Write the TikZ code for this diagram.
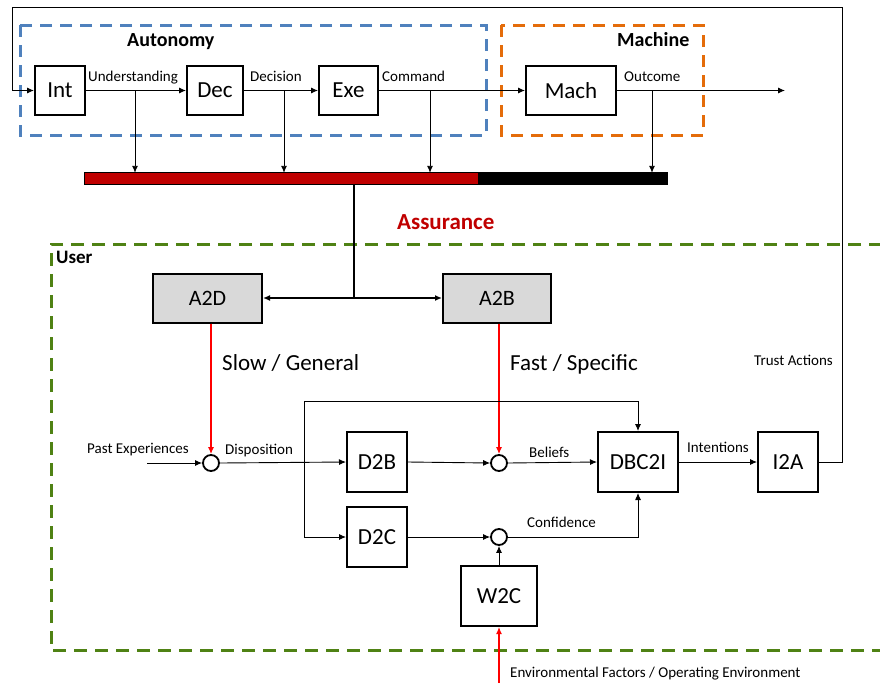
\documentclass[tikz,border=0pt]{standalone}
\usepackage{fontspec}
\setmainfont{Carlito}
\usetikzlibrary{arrows.meta,calc}
\definecolor{autblue}{RGB}{79,129,189}
\definecolor{machorange}{RGB}{228,108,10}
\definecolor{usergreen}{RGB}{79,130,20}
\definecolor{barred}{RGB}{192,0,0}
\definecolor{boxgray}{RGB}{217,217,217}
\begin{document}
\begin{tikzpicture}[x=1pt,y=-1pt,
  blk/.style={draw,line width=2pt,inner sep=0pt,font=\fontsize{23}{23}\selectfont},
  sumc/.style={draw,circle,line width=1.8pt,minimum size=16pt,inner sep=0pt},
  ar/.style={-{Latex[length=7pt,width=6pt]},line width=0.9pt},
  redar/.style={-{Latex[length=7pt,width=6pt]},line width=1.2pt,draw=red,fill=red},
  lbl/.style={font=\fontsize{15}{15}\selectfont,inner sep=0pt,anchor=base west},
  big/.style={font=\fontsize{23}{23}\selectfont,inner sep=0pt,anchor=base west},
  ttl/.style={font=\bfseries\fontsize{20}{20}\selectfont,inner sep=0pt,anchor=base west},
  grp/.style={line width=3pt,dash pattern=on 12pt off 8pt}
]
\useasboundingbox (0,0) rectangle (880,683);

% group frames
\draw[grp,autblue] (20,25) rectangle (486,135);
\draw[grp,machorange] (501,25) rectangle (703,135);
\draw[grp,usergreen,dash pattern=on 13pt off 8pt] (882,244) -- (51,244) -- (51,650) -- (882,650);

\node[ttl] (tAut) at (127,46) {Autonomy};
\node[ttl] (tMach) at (617,46) {Machine};
\node[ttl,font=\bfseries\fontsize{19}{19}\selectfont] (tUser) at (56,263) {User};
\node[ttl,font=\bfseries\fontsize{23}{23}\selectfont,text=barred] (tAss) at (397,229) {Assurance};

% top chain
\node[blk,minimum width=50pt,minimum height=49pt] (int) at (60,90.5) {Int};
\node[blk,minimum width=56pt,minimum height=49pt] (dec) at (215,90.5) {Dec};
\node[blk,minimum width=59pt,minimum height=49pt] (exe) at (348.5,90.5) {Exe};
\node[blk,minimum width=90pt,minimum height=49pt] (mach) at (571,90.5) {Mach};
\coordinate (outend) at (785,90.5);

\draw[ar] (int.east) -- (dec.west);
\draw[ar] (dec.east) -- (exe.west);
\draw[ar] (exe.east) -- (mach.west);
\draw[ar] (mach.east) -- (outend);

\node[lbl] (lU) at (88,81) {Understanding};
\node[lbl] (lD) at (250,81) {Decision};
\node[lbl] (lC) at (382,81) {Command};
\node[lbl] (lO) at (624,81) {Outcome};

% assurance bar
\node[fill=black,minimum width=582pt,minimum height=11pt,inner sep=0pt] (bar) at (376,178.5) {};
\fill[barred] (bar.north west) rectangle (478,184);
\draw[black,line width=0.8pt] (bar.north west) rectangle (bar.south east);

\coordinate (d1) at (135,90.5);
\coordinate (d2) at (284,90.5);
\coordinate (d3) at (430,90.5);
\coordinate (d4) at (652,90.5);
\draw[ar] (d1) -- (d1 |- bar.north);
\draw[ar] (d2) -- (d2 |- bar.north);
\draw[ar] (d3) -- (d3 |- bar.north);
\draw[ar] (d4) -- (d4 |- bar.north);

% user side
\node[blk,fill=boxgray,minimum width=109pt,minimum height=49pt,font=\fontsize{22}{22}\selectfont] (a2d) at (207.5,298) {A2D};
\node[blk,fill=boxgray,minimum width=108pt,minimum height=49pt,font=\fontsize{22}{22}\selectfont] (a2b) at (497,298) {A2B};
\coordinate (aj) at (354,298);
\draw[line width=2.2pt] (bar.south -| aj) -- (aj);
\draw[{Latex[length=7pt,width=6pt]}-{Latex[length=7pt,width=6pt]},line width=2.2pt] (a2d.east) -- (a2b.west);

\node[big] (tSlow) at (222,370) {Slow / General};
\node[big] (tFast) at (510,370) {Fast / Specific};

\node[sumc] (c1) at (211,463) {};
\node[sumc] (c2) at (499,463) {};
\node[sumc] (c3) at (499,537) {};

\node[blk,minimum width=60pt,minimum height=60pt] (d2b) at (377,462) {D2B};
\node[blk,minimum width=60pt,minimum height=60pt] (d2c) at (377,537) {D2C};
\node[blk,minimum width=76pt,minimum height=60pt] (w2c) at (499,596) {W2C};
\node[blk,minimum width=80pt,minimum height=60pt] (dbc) at (638,462) {DBC2I};
\node[blk,minimum width=60pt,minimum height=60pt] (i2a) at (788,462) {I2A};

\draw[redar] (c1 |- a2d.south) -- (c1.north);
\draw[redar] (c2 |- a2b.south) -- (c2.north);

\coordinate (pe) at (147,463);
\draw[ar] (pe) -- (c1.west);
\node[lbl] (lPE) at (87,453) {Past Experiences};
\node[lbl] (lDisp) at (225,454) {Disposition};

\draw[ar] (c1.east) -- (d2b.west);
\coordinate (br) at (304,463);
\coordinate (topl) at (304,401);
\draw[ar] (br) -- (topl) -| (dbc.north);
\draw[ar] (br) |- (d2c.west);

\draw[ar] (d2b.east) -- (c2.west);
\draw[ar] (c2.east) -- (dbc.west);
\node[lbl] (lBel) at (529,457) {Beliefs};

\draw[ar] (d2c.east) -- (c3.west);
\draw[ar] (c3.east) -| (dbc.south);
\node[lbl] (lConf) at (527,527) {Confidence};

\draw[ar] (w2c.north) -- (c3.south);
\coordinate (envin) at (499,683);
\draw[redar] (envin) -- (w2c.south);
\node[lbl] (lEnv) at (510,677) {Environmental Factors / Operating Environment};

\draw[ar] (dbc.east) -- (i2a.west);
\node[lbl] (lInt) at (687,452) {Intentions};
\node[lbl] (lTA) at (754,365) {Trust Actions};

% feedback loop
\coordinate (fb1) at (842,7);
\coordinate (fb2) at (12,7);
\draw[ar] (i2a.east) -| (fb1) -- (fb2) |- (int.west);
\end{tikzpicture}
\end{document}
